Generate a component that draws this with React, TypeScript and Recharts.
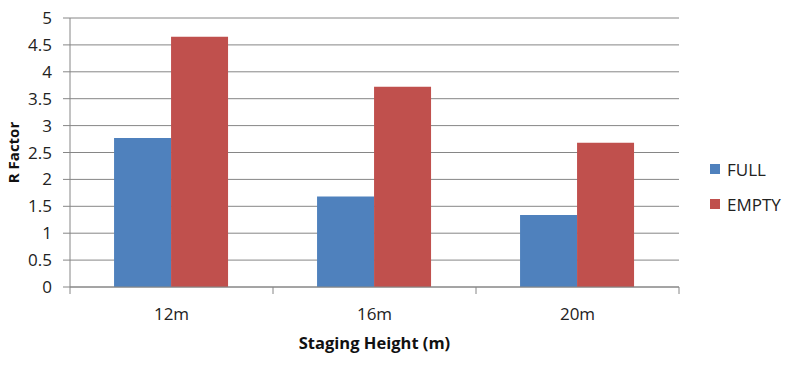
import React from "react";
import { BarChart, Bar, XAxis, YAxis, CartesianGrid, Legend } from "recharts";

const categories = ["12m", "16m", "20m"];
const fullValues = [2.77, 1.68, 1.34];
const emptyValues = [4.65, 3.72, 2.68];
const yTicks = [0, 0.5, 1, 1.5, 2, 2.5, 3, 3.5, 4, 4.5, 5];
const seriesNames = ["FULL", "EMPTY"];
const seriesColors = ["#4F81BD", "#C0504D"];

const data = categories.map((c, i) => ({ name: c, full: fullValues[i], empty: emptyValues[i] }));

const FONT = "'Open Sans', 'Liberation Sans', sans-serif";
const AXIS = "#868686";

const XTick = (props: any) => {
  const { x, y, payload, index, visibleTicksCount } = props;
  const off = payload && payload.offset ? payload.offset : 0;
  const top = y - 8;
  return (
    <g>
      <line x1={x - off} x2={x - off} y1={top} y2={top + 7} stroke={AXIS} />
      {index === visibleTicksCount - 1 && (
        <line x1={x + off} x2={x + off} y1={top} y2={top + 7} stroke={AXIS} />
      )}
      <text x={x} y={y + 25} textAnchor="middle" fill="#222" fontSize={17} fontFamily={FONT}>
        {payload.value}
      </text>
    </g>
  );
};

const LegendContent = () => (
  <div style={{ fontFamily: FONT, fontSize: 17, color: "#222" }}>
    {seriesNames.map((n, i) => (
      <div key={n} style={{ display: "flex", alignItems: "center", height: 20, marginBottom: i === 0 ? 15 : 0 }}>
        <span style={{ display: "inline-block", width: 10, height: 10, background: seriesColors[i], marginRight: 7 }} />
        <span>{n}</span>
      </div>
    ))}
  </div>
);

export default function App() {
  return (
    <div style={{ position: "absolute", left: 0, top: 0, background: "#fff" }}>
      <BarChart
        width={793}
        height={378}
        data={data}
        margin={{ top: 18, right: 24, left: 0, bottom: 0 }}
        barCategoryGap="21.7%"
        barGap={0}
      >
        <CartesianGrid vertical={false} stroke={AXIS} strokeWidth={1} />
        <XAxis
          dataKey="name"
          height={91}
          axisLine={{ stroke: AXIS }}
          tickLine={false}
          tick={<XTick />}
          interval={0}
          label={{
            value: "Staging Height (m)",
            position: "insideBottom",
            offset: 29,
            style: { fontFamily: FONT, fontSize: 16.5, fontWeight: 700, fill: "#111" },
          }}
        />
        <YAxis
          width={70}
          domain={[0, 5]}
          ticks={yTicks}
          interval={0}
          axisLine={{ stroke: AXIS }}
          tickLine={{ stroke: AXIS }}
          tickSize={7}
          tickMargin={11}
          tick={{ fill: "#222", fontSize: 17, fontFamily: FONT }}
          label={{
            content: (p: any) => {
              const vb = p.viewBox || { x: 0, y: 18, width: 70, height: 269 };
              const cx = vb.x + 13;
              const cy = vb.y + vb.height / 2;
              return (
                <text
                  x={cx}
                  y={cy}
                  transform={`rotate(-90 ${cx} ${cy})`}
                  textAnchor="middle"
                  dominantBaseline="central"
                  fontFamily={FONT}
                  fontSize={15}
                  fontWeight={700}
                  fill="#111"
                >
                  R Factor
                </text>
              );
            },
          }}
        />
        <Legend
          layout="vertical"
          verticalAlign="top"
          align="right"
          content={<LegendContent />}
          wrapperStyle={{ left: 710, top: 159, width: 90 }}
        />
        <Bar dataKey="full" name={seriesNames[0]} fill={seriesColors[0]} isAnimationActive={false} />
        <Bar dataKey="empty" name={seriesNames[1]} fill={seriesColors[1]} isAnimationActive={false} />
      </BarChart>
    </div>
  );
}
